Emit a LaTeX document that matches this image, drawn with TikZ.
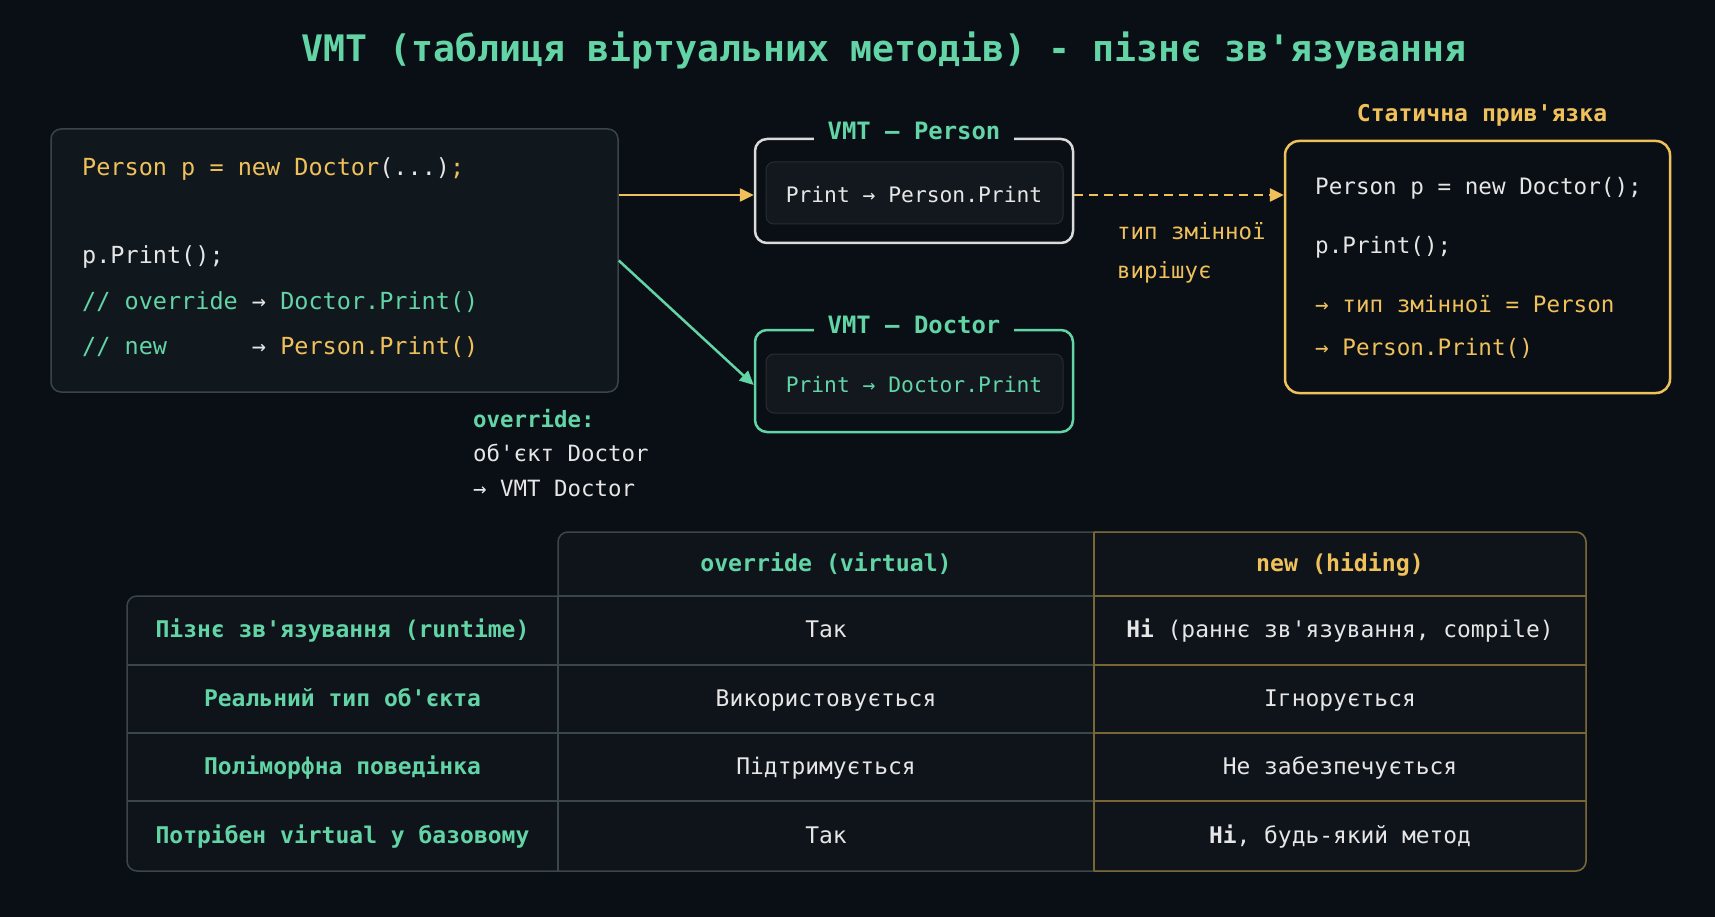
\documentclass[tikz,border=0pt]{standalone}
\usepackage{fontspec}
\setmonofont{DejaVu Sans Mono}
\usetikzlibrary{arrows.meta}
\definecolor{bg}{HTML}{0A0F15}
\definecolor{cteal}{HTML}{62D4A6}
\definecolor{cyel}{HTML}{F0C15B}
\definecolor{cwhite}{HTML}{E6E6E6}
\definecolor{cwhiteb}{HTML}{DADADA}
\definecolor{cborder}{HTML}{3A4548}
\definecolor{boxfill}{HTML}{10171D}
\definecolor{cinner}{HTML}{262D31}
\definecolor{cinfill}{HTML}{12181D}
\definecolor{cell}{HTML}{0E141A}
\definecolor{cgrid}{HTML}{3A4647}
\definecolor{cgold}{HTML}{7A6633}
\newcommand\myfs[1]{\fontsize{#1}{#1}\selectfont}
\begin{document}
\begin{tikzpicture}[x=1pt,y=-1pt,
  every node/.style={inner sep=0pt},
  codet/.style={font=\ttfamily\myfs{23.5}, anchor=mid west},
  statt/.style={font=\ttfamily\myfs{22.6}, anchor=mid west},
  lblt/.style={font=\ttfamily\myfs{22.4}, anchor=mid west},
  vmttitle/.style={font=\ttfamily\bfseries\myfs{23.9}, text=cteal, fill=bg, inner xsep=14pt, inner ysep=4pt},
  vmtbox/.style={line width=2.5pt, rounded corners=12pt, minimum width=318pt},
  vmtinner/.style={draw=cinner, fill=cinfill, line width=1pt, rounded corners=8pt, minimum width=297pt},
  vmttext/.style={font=\ttfamily\myfs{21.3}},
  tabhead/.style={font=\ttfamily\bfseries\myfs{23.2}, text height=16pt, text depth=5pt},
  tablbl/.style={font=\ttfamily\bfseries\myfs{23}, text=cteal, text height=16pt, text depth=5pt},
  tabcell/.style={font=\ttfamily\myfs{22.9}, text=cwhite, text height=16pt, text depth=5pt},
  arr/.style={line width=2.5pt, -{Triangle[length=14pt,width=13pt]}}
]
\useasboundingbox (0,0) rectangle (1715,917);
\fill[bg] (0,0) rectangle (1715,917);

% title
\node[font=\ttfamily\bfseries\myfs{36.5}, text=cteal] (title) at (884,50)
  {VMT (таблиця віртуальних методів) - пізнє зв'язування};

% code box
\node[draw=cborder, fill=boxfill, line width=1.5pt, rounded corners=10pt,
      minimum width=567pt, minimum height=263pt] (code) at (334.5,260.5) {};
\node[codet, text=cyel] (c1) at (82,173) {Person p = new Doctor\textcolor{cwhite}{(...)};};
\node[codet, text=cwhite] (c2) at (82,261) {p.Print();};
\node[codet, text=cteal] (c3) at (82,307) {// override \textcolor{cwhite}{→} Doctor.Print()};
\node[codet, text=cteal] (c4) at (82,352) {// new\ \ \ \ \ \ \textcolor{cwhite}{→} \textcolor{cyel}{Person.Print()}};

% VMT Person
\node[vmtbox, draw=cwhiteb, minimum height=104pt] (vmtP) at (914,191) {};
\node[vmtinner, minimum height=62pt] (vmtPi) at (914.5,193) {};
\node[vmttext, text=cwhite] (pp) at (914,195) {Print → Person.Print};
\node[vmttitle] (vmtPt) at (914,131) {VMT – Person};

% VMT Doctor
\node[vmtbox, draw=cteal, minimum height=102pt] (vmtD) at (914,381) {};
\node[vmtinner, minimum height=59pt] (vmtDi) at (914.5,383.5) {};
\node[vmttext, text=cteal] (pd) at (914,385) {Print → Doctor.Print};
\node[vmttitle] (vmtDt) at (914,325) {VMT – Doctor};

% static box
\node[draw=cyel, fill=bg, line width=2.5pt, rounded corners=14pt,
      minimum width=385pt, minimum height=252pt] (stat) at (1477.5,267) {};
\node[font=\ttfamily\bfseries\myfs{23.1}, text=cyel] (statt) at (1482,115) {Статична прив'язка};
\node[statt, text=cwhite] (s1) at (1315,192) {Person p = new Doctor();};
\node[statt, text=cwhite] (s2) at (1315,251) {p.Print();};
\node[statt, text=cyel] (s3) at (1315,310) {→ тип змінної = Person};
\node[statt, text=cyel] (s4) at (1315,353) {→ Person.Print()};

% labels
\node[lblt, text=cyel] (l1) at (1117,237) {тип змінної};
\node[lblt, text=cyel] (l2) at (1117,276) {вирішує};
\node[lblt, text=cteal, font=\ttfamily\bfseries\myfs{22.4}] (o1) at (473,425) {override:};
\node[lblt, text=cwhite] (o2) at (473,459) {об'єкт Doctor};
\node[lblt, text=cwhite] (o3) at (473,494) {→ VMT Doctor};

% connectors
\draw[arr, cyel] (code.east |- pp) -- (vmtP.west |- pp);
\draw[arr, cteal] (code.east) -- (vmtD.west |- pd);
\draw[arr, cyel, dash pattern=on 9pt off 6pt] (vmtP.east |- pp) -- (stat.west |- pp);

% table
\path[fill=cell, draw=cgrid, line width=1.5pt, rounded corners=10pt]
  (558,596) -- (558,532) -- (1586,532) -- (1586,871) -- (127,871) -- (127,596) -- (558,596);
\draw[cgold, line width=1.5pt, rounded corners=10pt] (1094,532) -- (1586,532) -- (1586,871) -- (1094,871);
\draw[cgrid, line width=1.5pt] (558,596) -- (558,871);
\draw[cgrid, line width=1.5pt] (558,596) -- (1094,596);
\foreach \yy in {665,733,801} {
  \draw[cgrid, line width=1.5pt] (127,\yy) -- (1094,\yy);
}
\foreach \yy in {596,665,733,801} {
  \draw[cgold, line width=1.5pt] (1094,\yy) -- (1586,\yy);
}
\draw[cgold, line width=1.5pt] (1094,532) -- (1094,871);

\node[tabhead, text=cteal] (h1) at (826,566) {override (virtual)};
\node[tabhead, text=cyel] (h2) at (1340,566) {new (hiding)};

\node[tablbl] (r1) at (342.5,632) {Пізнє зв'язування (runtime)};
\node[tablbl] (r2) at (342.5,701) {Реальний тип об'єкта};
\node[tablbl] (r3) at (342.5,769) {Поліморфна поведінка};
\node[tablbl] (r4) at (342.5,838) {Потрібен virtual у базовому};

\node[tabcell] (m1) at (826,632) {Так};
\node[tabcell] (m2) at (826,701) {Використовується};
\node[tabcell] (m3) at (826,769) {Підтримується};
\node[tabcell] (m4) at (826,838) {Так};

\node[tabcell] (n1) at (1340,632) {\textbf{Ні} (раннє зв'язування, compile)};
\node[tabcell] (n2) at (1340,701) {Ігнорується};
\node[tabcell] (n3) at (1340,769) {Не забезпечується};
\node[tabcell] (n4) at (1340,838) {\textbf{Ні}, будь-який метод};
\end{tikzpicture}
\end{document}
